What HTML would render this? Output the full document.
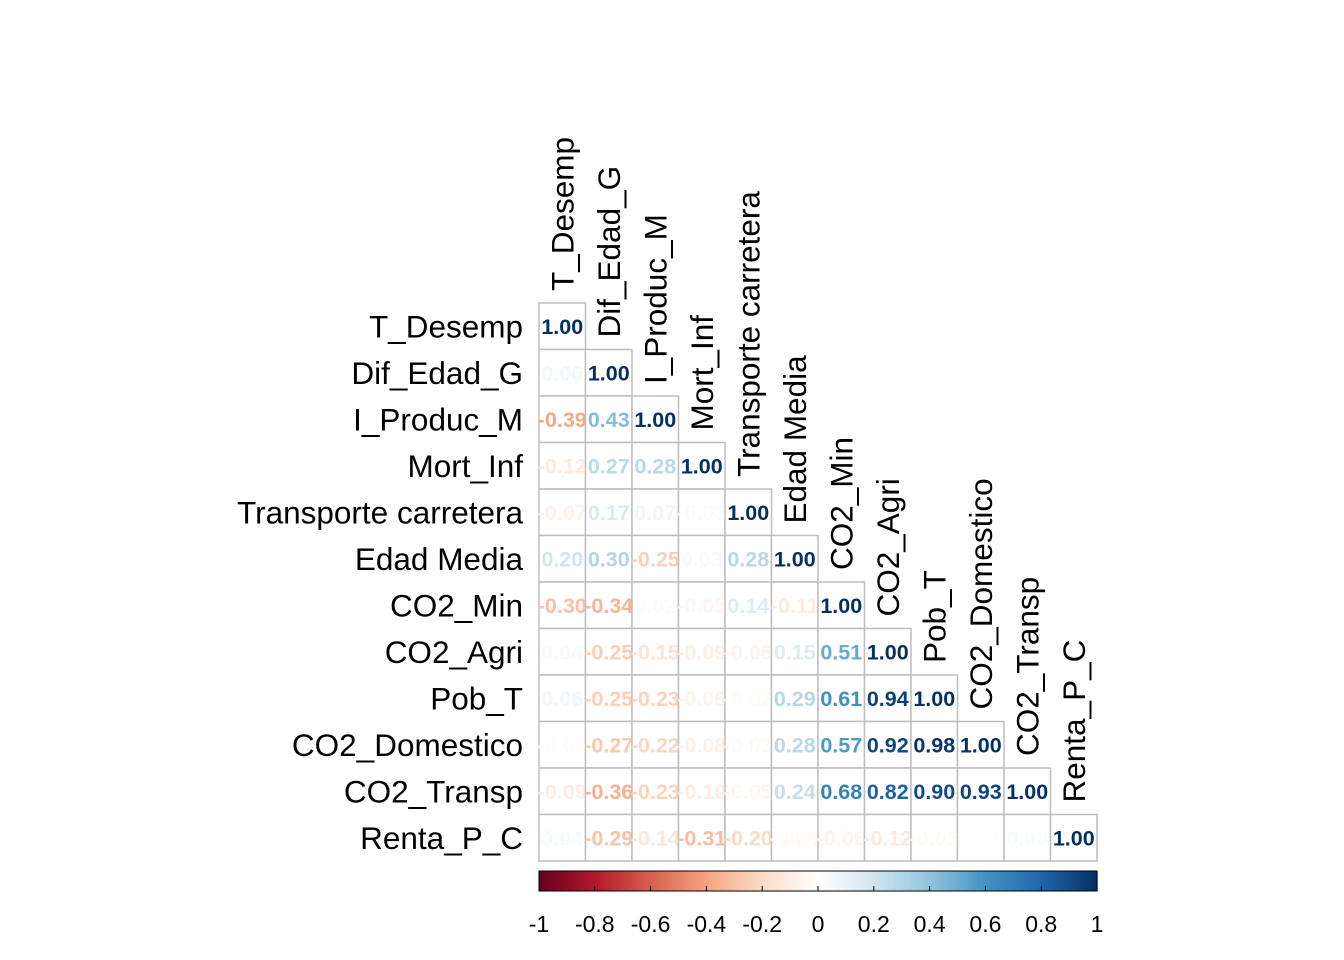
<!DOCTYPE html>
<html><head><meta charset="utf-8"><style>
body{margin:0;background:#fff;}
svg{display:block;font-family:"Liberation Sans",Arial,sans-serif;}
</style></head><body>
<svg id="chart" width="1344" height="960" viewBox="0 0 1344 960"></svg>
<script>
const labels=["T_Desemp","Dif_Edad_G","I_Produc_M","Mort_Inf","Transporte carretera","Edad Media","CO2_Min","CO2_Agri","Pob_T","CO2_Domestico","CO2_Transp","Renta_P_C"];
const row0=[1.00];
const row1=[0.06,1.00];
const row2=[-0.39,0.43,1.00];
const row3=[-0.12,0.27,0.28,1.00];
const row4=[-0.07,0.17,0.07,-0.03,1.00];
const row5=[0.20,0.30,-0.25,0.03,0.28,1.00];
const row6=[-0.30,-0.34,0.02,-0.05,0.14,-0.11,1.00];
const row7=[0.04,-0.25,-0.15,-0.09,-0.06,0.15,0.51,1.00];
const row8=[0.06,-0.25,-0.23,-0.06,-0.02,0.29,0.61,0.94,1.00];
const row9=[-0.01,-0.27,-0.22,-0.08,-0.03,0.28,0.57,0.92,0.98,1.00];
const row10=[-0.09,-0.36,-0.23,-0.10,-0.05,0.24,0.68,0.82,0.90,0.93,1.00];
const row11=[0.04,-0.29,-0.14,-0.31,-0.20,-0.04,-0.06,-0.12,-0.03,0.01,0.03,1.00];
const rows=[row0,row1,row2,row3,row4,row5,row6,row7,row8,row9,row10,row11];
const cbTicks=[-1,-0.8,-0.6,-0.4,-0.2,0,0.2,0.4,0.6,0.8,1];
const cbTickLabels=["-1","-0.8","-0.6","-0.4","-0.2","0","0.2","0.4","0.6","0.8","1"];

const pal=["#67001F","#B2182B","#D6604D","#F4A582","#FDDBC7","#FFFFFF","#D1E5F0","#92C5DE","#4393C3","#2166AC","#053061"];
function hex(h){return [1,3,5].map(i=>parseInt(h.substr(i,2),16));}
function col(v){
  const t=(Math.max(-1,Math.min(1,v))+1)/2*10;
  const i=Math.min(9,Math.floor(t)),f=t-i;
  const a=hex(pal[i]),b=hex(pal[i+1]);
  return "rgb("+a.map((x,k)=>Math.round(x+(b[k]-x)*f)).join(",")+")";
}
const X0=539,Y0=303,CS=46.5;
const xs=j=>X0+j*CS, ys=i=>Y0+i*CS;
const NS="http://www.w3.org/2000/svg";
const svg=document.getElementById("chart");
function el(tag,attrs,parent){const e=document.createElementNS(NS,tag);for(const k in attrs)e.setAttribute(k,attrs[k]);(parent||svg).appendChild(e);return e;}

rows.forEach((r,i)=>{
  r.forEach((v,j)=>{
    const rc=el("rect",{x:xs(j),y:ys(i),width:CS,height:CS,fill:"#fff",stroke:"#BEBEBE","stroke-width":1.5});
    
    
    const t=el("text",{x:xs(j)+CS/2,y:ys(i)+CS/2+7.5,"text-anchor":"middle","font-size":21.5,"font-weight":"bold",fill:col(v)});
    
    
    t.textContent=v.toFixed(2);
  });
});
labels.forEach((l,i)=>{
  const t=el("text",{x:523,y:ys(i)+CS/2+11,"text-anchor":"end","font-size":31.5,fill:"#000"});
  
  
  t.textContent=l;
  const cx=xs(i)+CS/2+11, cy=ys(i)-12;
  const c=el("text",{x:cx,y:cy,transform:"rotate(-90 "+cx+" "+cy+")","font-size":31.5,fill:"#000"});
  
  
  c.textContent=l;
});
// colorbar
const CBX0=539,CBX1=1097,CBY=871,CBH=20;
const cbx=v=>CBX0+(v+1)/2*(CBX1-CBX0);
const N=200;
for(let k=0;k<N;k++){
  const v=-1+2*(k+0.5)/N;
  const r=el("rect",{x:CBX0+k*(CBX1-CBX0)/N,y:CBY,width:(CBX1-CBX0)/N+0.6,height:CBH,fill:col(v)});
  
  
}
const fr=el("rect",{x:CBX0,y:CBY,width:CBX1-CBX0,height:CBH,fill:"none",stroke:"#000","stroke-width":1});


cbTicks.forEach((v,k)=>{
  const ln=el("line",{x1:cbx(v),x2:cbx(v),y1:CBY+CBH-5,y2:CBY+CBH,stroke:"#000","stroke-width":1});
  
  
  const t=el("text",{x:cbx(v),y:932,"text-anchor":"middle","font-size":23,fill:"#000"});
  
  
  t.textContent=cbTickLabels[k];
});
</script>
</body></html>
